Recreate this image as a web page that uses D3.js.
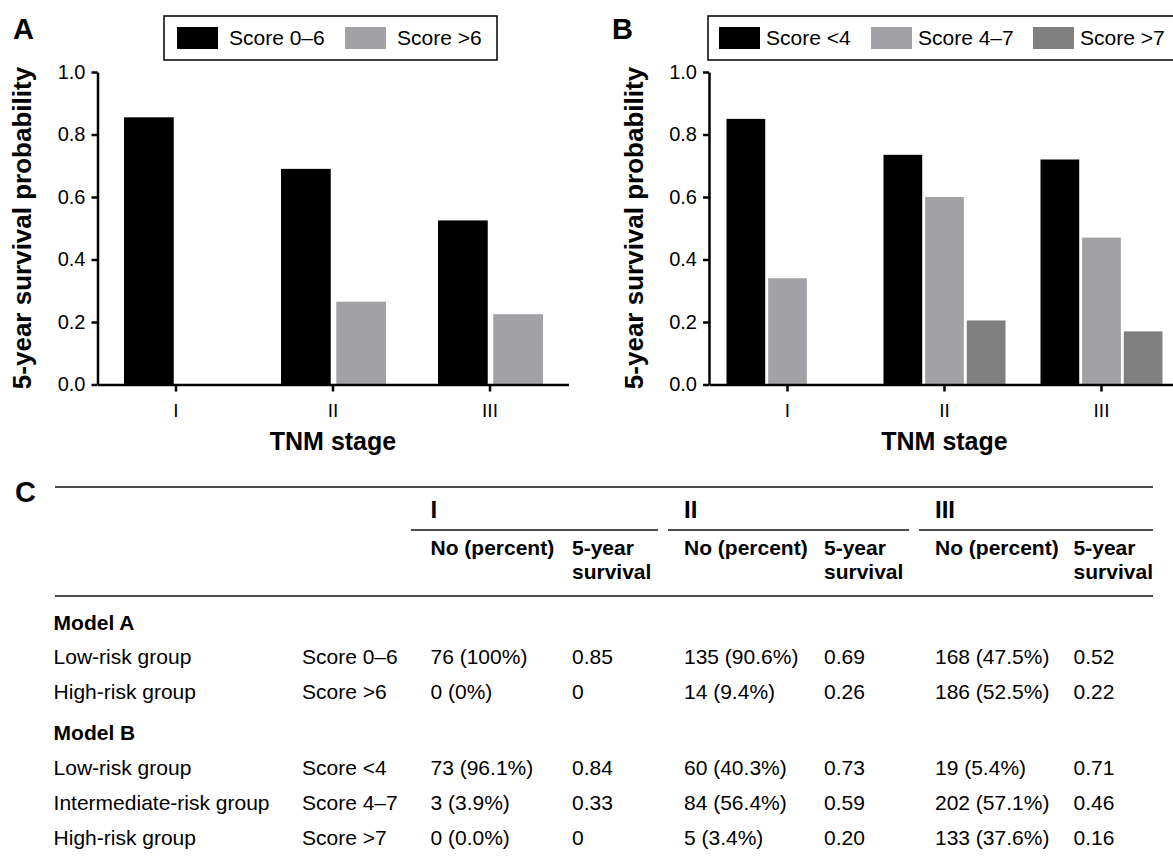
<!DOCTYPE html>
<html><head><meta charset="utf-8">
<script src="https://cdn.jsdelivr.net/npm/d3@7"></script>
<style>
body{margin:0;background:#fff;}
svg{display:block;font-family:"Liberation Sans",Arial,Helvetica,sans-serif;}
</style></head><body>
<svg id="chart" width="1173" height="862"></svg>
<script>
// ---------- data ----------
const stages = ["I","II","III"];
const yTicks = [0,0.2,0.4,0.6,0.8,1.0];

const seriesA = ["Score 0–6","Score >6"];
const survivalA_score0to6  = [0.855,0.69,0.525];
const survivalA_scoreOver6 = [0,0.265,0.225];

const seriesB = ["Score <4","Score 4–7","Score >7"];
const survivalB_scoreUnder4 = [0.85,0.735,0.72];
const survivalB_score4to7   = [0.34,0.60,0.47];
const survivalB_scoreOver7  = [0,0.205,0.17];

const tableStages = ["I","II","III"];
const tableSubHeaders = [["No (percent)"],["5-year","survival"]];
const modelNames = ["Model A","Model B"];
const modelA_groups = ["Low-risk group","High-risk group"];
const modelA_scores = ["Score 0–6","Score >6"];
const modelA_counts = [["76 (100%)","135 (90.6%)","168 (47.5%)"],["0 (0%)","14 (9.4%)","186 (52.5%)"]];
const modelA_surv   = [["0.85","0.69","0.52"],["0","0.26","0.22"]];
const modelB_groups = ["Low-risk group","Intermediate-risk group","High-risk group"];
const modelB_scores = ["Score <4","Score 4–7","Score >7"];
const modelB_counts = [["73 (96.1%)","60 (40.3%)","19 (5.4%)"],["3 (3.9%)","84 (56.4%)","202 (57.1%)"],["0 (0.0%)","5 (3.4%)","133 (37.6%)"]];
const modelB_surv   = [["0.84","0.73","0.71"],["0.33","0.59","0.46"],["0","0.20","0.16"]];

// ---------- drawing ----------
const svg = d3.select("#chart");
const C_BLACK = "#000000", C_GRAY = "#a2a2a6", C_DARK = "#808080";

function panel(o){
  const g = svg.append("g");
  const x = d3.scaleBand().domain(stages).range(o.xRange).padding(0);
  const y = d3.scaleLinear().domain([0,1]).range([384.5,72]);
  const xs = d3.scaleBand().domain(o.series).range(o.groupRange).paddingInner(o.pad);

  o.series.forEach((s,i)=>{
    g.selectAll(null).data(o.values[i].map((v,j)=>({stage:stages[j],v})))
      .join("rect")
      .attr("x",d=>x(d.stage)+x.bandwidth()/2+xs(s))
      .attr("y",d=>y(d.v))
      .attr("width",xs.bandwidth())
      .attr("height",d=>y(0)-y(d.v))
      .attr("fill",o.colors[i]);
  });

  const ya = g.append("g").attr("transform",`translate(${o.xRange[0]},0)`)
    .call(d3.axisLeft(y).tickValues(yTicks).tickFormat(d3.format(".1f"))
      .tickSize(6).tickSizeOuter(0).tickPadding(6));
  const xa = g.append("g").attr("transform",`translate(0,${y(0)})`)
    .call(d3.axisBottom(x).tickSize(7).tickSizeOuter(0).tickPadding(12));
  [ya,xa].forEach(a=>{
    a.selectAll("path,line").attr("stroke","#000").attr("stroke-width",2.5);
    a.selectAll("text").attr("fill","#000").style("font-size","20px");
  });
  xa.selectAll("text").style("font-size","19px");

  // axis titles
  g.append("text").attr("transform",`translate(${o.titleX},228) rotate(-90)`)
    .attr("text-anchor","middle").style("font-size","26px").style("font-weight","bold")
    .text("5-year survival probability");
  g.append("text").attr("x",(o.xRange[0]+o.xRange[1])/2).attr("y",450)
    .attr("text-anchor","middle").style("font-size","25px").style("font-weight","bold")
    .text("TNM stage");
  // letter
  g.append("text").attr("x",o.letterX).attr("y",39).style("font-size","29px")
    .style("font-weight","bold").text(o.letter);

  // legend
  const L = o.legend;
  g.append("rect").attr("x",L.x).attr("y",16).attr("width",L.w).attr("height",44)
    .attr("fill","#fff").attr("stroke","#000").attr("stroke-width",1.5);
  o.series.forEach((s,i)=>{
    g.append("rect").attr("x",L.items[i]).attr("y",27).attr("width",41).attr("height",22)
      .attr("fill",o.colors[i]);
    g.append("text").attr("x",L.items[i]+L.gap).attr("y",45).style("font-size","21px")
      .text(s);
  });
}

panel({letter:"A",letterX:13,xRange:[97.5,568.5],series:seriesA,
  values:[survivalA_score0to6,survivalA_scoreOver6],colors:[C_BLACK,C_GRAY],
  groupRange:[-52,53],pad:0.1,titleX:31,
  legend:{x:164,w:333,items:[177,345],gap:52}});

panel({letter:"B",letterX:612,xRange:[709,1180],series:seriesB,
  values:[survivalB_scoreUnder4,survivalB_score4to7,survivalB_scoreOver7],
  colors:[C_BLACK,C_GRAY,C_DARK],
  groupRange:[-61,61],pad:0.07,titleX:643,
  legend:{x:708,w:480,items:[719,871,1033],gap:47}});

// ---------- table ----------
const t = svg.append("g").style("font-size","21px").attr("fill","#000");
t.append("text").attr("x",15).attr("y",502).style("font-size","29px").style("font-weight","bold").text("C");
const rule=(x1,x2,yy)=>t.append("line").attr("x1",x1).attr("x2",x2).attr("y1",yy).attr("y2",yy)
  .attr("stroke","#111").attr("stroke-width",1.6);
rule(55,1153,487); rule(55,1153,596);
const stageCols=[{no:430.5,surv:572,r:[411,658]},{no:684,surv:824,r:[668,909]},{no:935,surv:1073.6,r:[919,1153]}];
const labelX=53.6, scoreX=302;
tableStages.forEach((s,i)=>{
  const c=stageCols[i];
  t.append("text").attr("x",c.no).attr("y",518).style("font-size","24px").style("font-weight","bold").text(s);
  rule(c.r[0],c.r[1],530);
  [c.no,c.surv].forEach((cx,k)=>{
    tableSubHeaders[k].forEach((line,li)=>{
      t.append("text").attr("x",cx).attr("y",555+li*24).style("font-weight","bold").text(line);
    });
  });
});
function modelBlock(name,yHead,groups,scores,counts,surv,rowYs){
  t.append("text").attr("x",labelX).attr("y",yHead).style("font-weight","bold").text(name);
  groups.forEach((gname,r)=>{
    const yy=rowYs[r];
    t.append("text").attr("x",labelX).attr("y",yy).text(gname);
    t.append("text").attr("x",scoreX).attr("y",yy).text(scores[r]);
    stageCols.forEach((c,i)=>{
      t.append("text").attr("x",c.no).attr("y",yy).text(counts[r][i]);
      t.append("text").attr("x",c.surv).attr("y",yy).text(surv[r][i]);
    });
  });
}
modelBlock(modelNames[0],630,modelA_groups,modelA_scores,modelA_counts,modelA_surv,[664,699]);
modelBlock(modelNames[1],740,modelB_groups,modelB_scores,modelB_counts,modelB_surv,[775,810,845]);
</script>
</body></html>
